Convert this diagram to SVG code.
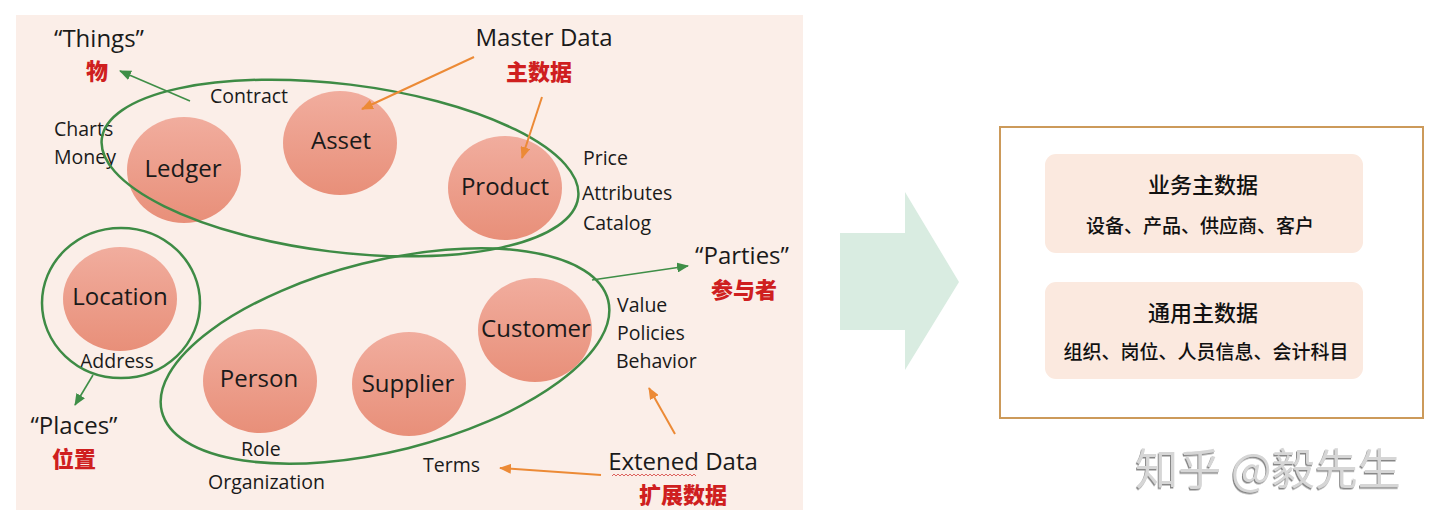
<svg xmlns="http://www.w3.org/2000/svg" width="1440" height="527" viewBox="0 0 1440 527">
<defs>
<linearGradient id="sal" x1="0" y1="0" x2="0" y2="1">
<stop offset="0" stop-color="#F1AD9E"/>
<stop offset="1" stop-color="#E88F79"/>
</linearGradient>
<marker id="ag" markerUnits="userSpaceOnUse" markerWidth="12" markerHeight="10" refX="11" refY="5" orient="auto">
<path d="M0,0 L12,5 L0,10 z" fill="#3F8E47"/>
</marker>
<marker id="ao" markerUnits="userSpaceOnUse" markerWidth="12" markerHeight="10" refX="11" refY="5" orient="auto">
<path d="M0,0 L12,5 L0,10 z" fill="#EC8A36"/>
</marker>
<filter id="emb" x="-5%" y="-10%" width="110%" height="130%">
<feDropShadow dx="-1" dy="1.5" stdDeviation="0.6" flood-color="#7a7a7a" flood-opacity="0.9"/>
</filter>
</defs>
<style>
.c{fill:url(#sal)}
.nt{font-family:"Open Sans","Noto Sans",sans-serif;font-size:24px;fill:#1a1a1a;text-anchor:middle}
.lb{font-family:"Open Sans","Noto Sans",sans-serif;font-size:19.5px;fill:#1a1a1a}
.hd{font-family:"Open Sans","Noto Sans",sans-serif;font-size:24px;fill:#1a1a1a;text-anchor:middle}
.rd{font-family:"Noto Sans CJK SC",sans-serif;font-size:22px;font-weight:900;fill:#CF1F1F;text-anchor:middle}
.grp{fill:none;stroke:#3E8B45;stroke-width:2.5}
.ga{fill:none;stroke:#3F8E47;stroke-width:1.6;marker-end:url(#ag)}
.oa{fill:none;stroke:#EC8A36;stroke-width:2;marker-end:url(#ao)}
.bt{font-family:"Noto Sans CJK SC",sans-serif;font-size:22px;font-weight:500;fill:#111;text-anchor:middle}
.bs{font-family:"Noto Sans CJK SC",sans-serif;font-size:19px;font-weight:500;fill:#111;text-anchor:middle}
.ib{fill:#FBE9DF}
</style>
<rect x="0" y="0" width="1440" height="527" fill="#FFFFFF"/>
<rect x="16" y="15" width="787" height="495" fill="#FBEEE8"/>

<g id="ledger"><ellipse class="c" cx="184" cy="170" rx="57" ry="53"/><text class="nt" x="183" y="177">Ledger</text></g>
<g id="asset"><ellipse class="c" cx="340" cy="143" rx="57" ry="52"/><text class="nt" x="341" y="149">Asset</text></g>
<g id="product"><ellipse class="c" cx="505" cy="188" rx="57" ry="52"/><text class="nt" x="505" y="195">Product</text></g>
<g id="location"><ellipse class="c" cx="120" cy="299" rx="57" ry="52"/><text class="nt" x="120" y="305">Location</text></g>
<g id="person"><ellipse class="c" cx="260" cy="381" rx="57" ry="52"/><text class="nt" x="259" y="387">Person</text></g>
<g id="supplier"><ellipse class="c" cx="409" cy="384" rx="57" ry="52"/><text class="nt" x="408" y="392">Supplier</text></g>
<g id="customer"><ellipse class="c" cx="535" cy="330" rx="57" ry="52"/><text class="nt" x="536" y="337">Customer</text></g>

<g id="labels">
<text class="hd" x="99" y="47">“Things”</text>
<text class="rd" x="97" y="79">物</text>
<text class="hd" x="544" y="46">Master Data</text>
<text class="rd" x="539" y="80">主数据</text>
<text class="hd" x="742" y="264">“Parties”</text>
<text class="rd" x="744" y="298">参与者</text>
<text class="hd" x="74" y="434">“Places”</text>
<text class="rd" x="74" y="467">位置</text>
<text class="hd" x="683" y="470">Extened Data</text>
<path d="M612,476 l2,-2 l2,2 l2,-2 l2,2 l2,-2 l2,2 l2,-2 l2,2 l2,-2 l2,2 l2,-2 l2,2 l2,-2 l2,2 l2,-2 l2,2 l2,-2 l2,2 l2,-2 l2,2 l2,-2 l2,2 l2,-2 l2,2 l2,-2 l2,2 l2,-2 l2,2 l2,-2 l2,2 l2,-2 l2,2 l2,-2 l2,2 l2,-2 l2,2 l2,-2 l2,2 l2,-2 l2,2 l2,-2 l2,2" fill="none" stroke="#D9534F" stroke-width="0.9"/>
<text class="rd" x="683" y="503">扩展数据</text>
<text class="lb" x="210" y="103">Contract</text>
<text class="lb" x="54" y="136">Charts</text>
<text class="lb" x="54" y="164">Money</text>
<text class="lb" x="583" y="165">Price</text>
<text class="lb" x="582" y="200">Attributes</text>
<text class="lb" x="583" y="230">Catalog</text>
<text class="lb" x="617" y="312">Value</text>
<text class="lb" x="617" y="340">Policies</text>
<text class="lb" x="616" y="368">Behavior</text>
<text class="lb" x="80" y="368">Address</text>
<text class="lb" x="241" y="456">Role</text>
<text class="lb" x="208" y="489">Organization</text>
<text class="lb" x="423" y="472">Terms</text>
</g>

<g id="connectors">
<ellipse class="grp" cx="340" cy="168" rx="240" ry="84" transform="rotate(7 340 168)"/>
<ellipse class="grp" cx="121" cy="303" rx="79" ry="75"/>
<ellipse class="grp" cx="385" cy="356" rx="230" ry="95" transform="rotate(-14 385 356)"/>
<path class="ga" d="M190,101 L120,71"/>
<path class="ga" d="M93,375 L75,405"/>
<path class="ga" d="M592,280 L688,266"/>
<path class="oa" d="M474,57 L362,109"/>
<path class="oa" d="M542,97 L522,158"/>
<path class="oa" d="M675,434 L649,388"/>
<path class="oa" d="M601,475 L500,468"/>
</g>

<g id="big-arrow">
<polygon points="840,233 905,233 905,192 959,282 905,370 905,330 840,330" fill="#D9ECE1"/>
</g>

<g id="result-box">
<rect x="1000" y="127" width="423" height="291" fill="#FFFFFF" stroke="#CC9A5A" stroke-width="2"/>
</g>
<g id="business-md">
<rect class="ib" x="1045" y="154" width="318" height="99" rx="11"/>
<text class="bt" x="1203" y="193">业务主数据</text>
<text class="bs" x="1200" y="233">设备、产品、供应商、客户</text>
</g>
<g id="general-md">
<rect class="ib" x="1045" y="282" width="318" height="97" rx="11"/>
<text class="bt" x="1203" y="321">通用主数据</text>
<text class="bs" x="1206" y="359">组织、岗位、人员信息、会计科目</text>
</g>
<text x="1268" y="485" font-family="Noto Sans CJK SC, sans-serif" font-size="43" fill="#D6D6D6" text-anchor="middle" filter="url(#emb)">知乎 @毅先生</text>
</svg>
